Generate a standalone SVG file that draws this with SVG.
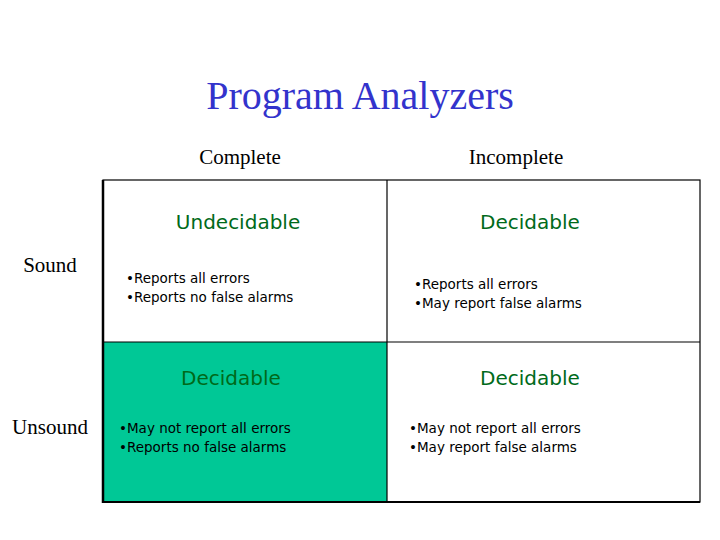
<svg xmlns="http://www.w3.org/2000/svg" width="720" height="540" viewBox="0 0 720 540">
<style>
.h{font-family:"Liberation Serif",serif;font-size:21px;fill:#000}
.d{font-family:"DejaVu Sans",sans-serif;font-size:20px;fill:#006a1a;text-anchor:middle}
.b{font-family:"DejaVu Sans",sans-serif;font-size:13.5px;fill:#000}
.ln{stroke:#000;stroke-width:1.2;fill:none}
</style>
<rect width="720" height="540" fill="#fff"/>
<text x="360" y="109" text-anchor="middle" font-family="Liberation Serif,serif" font-size="40" fill="#3333cc">Program Analyzers</text>
<text class="h" x="240" y="164" text-anchor="middle">Complete</text>
<text class="h" x="516" y="164" text-anchor="middle">Incomplete</text>
<text class="h" x="50" y="272" text-anchor="middle">Sound</text>
<text class="h" x="50" y="434" text-anchor="middle">Unsound</text>
<g id="cell-complete-unsound"><rect x="103" y="342" width="284" height="160" fill="#00c896"/></g>
<g id="grid">
<rect class="ln" x="103" y="180" width="597" height="322"/>
<line class="ln" x1="387" y1="180" x2="387" y2="502"/>
<line class="ln" x1="103" y1="342" x2="700" y2="342"/>
<line x1="103" y1="180" x2="103" y2="503" stroke="#000" stroke-width="2.5"/>
<line x1="103" y1="502" x2="700" y2="502" stroke="#000" stroke-width="2"/>
</g>
<g id="cell-complete-sound">
<text class="d" x="238" y="229">Undecidable</text>
<text class="b" x="126" y="283">•Reports all errors</text>
<text class="b" x="126" y="302">•Reports no false alarms</text>
</g>
<g id="cell-incomplete-sound">
<text class="d" x="530" y="229">Decidable</text>
<text class="b" x="414" y="289">•Reports all errors</text>
<text class="b" x="414" y="308">•May report false alarms</text>
</g>
<g id="cell-complete-unsound-text">
<text class="d" x="231" y="385">Decidable</text>
<text class="b" x="119" y="433">•May not report all errors</text>
<text class="b" x="119" y="452">•Reports no false alarms</text>
</g>
<g id="cell-incomplete-unsound">
<text class="d" x="530" y="385">Decidable</text>
<text class="b" x="409" y="433">•May not report all errors</text>
<text class="b" x="409" y="452">•May report false alarms</text>
</g>
</svg>
